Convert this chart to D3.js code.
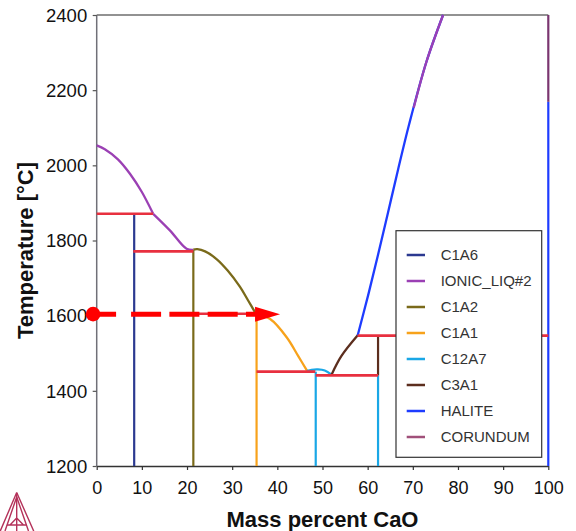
<!DOCTYPE html>
<html>
<head>
<meta charset="utf-8">
<script src="https://cdn.jsdelivr.net/npm/d3@7"></script>
<style>
  html, body { margin: 0; padding: 0; background: #fff; }
  svg { display: block; font-family: "Liberation Sans", Arial, sans-serif; }
</style>
</head>
<body>
<svg id="chart" width="576" height="531"></svg>
<script>
// CaO–Al2O3 phase diagram: x = mass percent CaO, y = temperature in °C

const xTicks = [0, 10, 20, 30, 40, 50, 60, 70, 80, 90, 100];
const yTicks = [1200, 1400, 1600, 1800, 2000, 2200, 2400];

// Phase names shown in the legend, with their line colours
const phaseNames  = ["C1A6", "IONIC_LIQ#2", "C1A2", "C1A1", "C12A7", "C3A1", "HALITE", "CORUNDUM"];
const phaseColors = ["#2b3990", "#9b40b4", "#7a6a1a", "#f7a21b", "#1aa7e6", "#5c2e1e", "#1e3cff", "#a0507a"];

// Liquidus branches [mass % CaO, T °C]
const liqCorundum = [[0, 2053], [1.8, 2043], [4.7, 2016], [7.4, 1977], [10.0, 1929], [12.5, 1871]];
const liqC1A6     = [[12.5, 1871], [16.2, 1827], [19.9, 1778], [21.4, 1775]];
const liqUpper    = [[70.2, 2153], [73.0, 2275], [76.7, 2400]];
const liqC1A2     = [[21.4, 1776], [22.3, 1777], [24.0, 1771], [26.6, 1750], [29.0, 1720], [31.7, 1677], [33.5, 1641], [35.3, 1604]];
const liqC1A1     = [[35.3, 1604], [38.4, 1591], [42.1, 1542], [44.6, 1493], [46.6, 1453]];
const liqC12A7    = [[46.6, 1453], [47.6, 1456], [49.0, 1457], [50.5, 1454], [52.0, 1443]];
const liqC3A1     = [[52.0, 1443], [54.2, 1493], [57.8, 1548]];
const liqHalite   = [[57.8, 1548], [60.1, 1654], [62.3, 1762], [64.5, 1874], [66.7, 1987], [69.2, 2110], [73.0, 2275], [76.7, 2400]];

// Stoichiometric compound lines: [phase index, x, T bottom, T top]
const compounds = [
  [0, 8.3, 1200, 1871],
  [2, 21.4, 1200, 1775],
  [3, 35.4, 1200, 1604],
  [4, 48.5, 1200, 1451],
  [4, 62.3, 1200, 1441],
  [5, 62.3, 1441, 1547],
  [6, 100, 1200, 2169],
  [7, 100, 2169, 2400]
];

// Invariant (three-phase) temperatures: [x from, x to, T]
const invariants = [
  [0, 12.5, 1871],
  [8.1, 21.4, 1771],
  [21.4, 35.4, 1605],
  [35.4, 48.4, 1451],
  [48.5, 62.3, 1441],
  [57.8, 100, 1547]
];

// Isothermal path marker: start point and arrow tip
const pathStart = [-0.8, 1604];
const pathEnd   = [40.6, 1604];

const svg = d3.select("#chart");
const margin = { left: 96.7, right: 576 - 548.3, top: 15, bottom: 531 - 466 };
const W = 576, H = 531;

const x = d3.scaleLinear().domain([0, 100]).range([margin.left, W - margin.right]);
const y = d3.scaleLinear().domain([1200, 2400]).range([H - margin.bottom, margin.top]);

const line = d3.line().x(d => x(d[0])).y(d => y(d[1])).curve(d3.curveCatmullRom.alpha(0.5));
const straight = d3.line().x(d => x(d[0])).y(d => y(d[1]));

// Frame: top and left in grey
svg.append("line")
  .attr("x1", x(0)).attr("x2", x(100)).attr("y1", y(2400)).attr("y2", y(2400))
  .attr("stroke", "#6e6e6e").attr("stroke-width", 1.5);
svg.append("line")
  .attr("x1", x(0)).attr("x2", x(0)).attr("y1", y(2400)).attr("y2", y(1200))
  .attr("stroke", "#707078").attr("stroke-width", 1.5);

// Axes
const xAxis = svg.append("g")
  .attr("transform", `translate(0,${y(1200)})`)
  .call(d3.axisBottom(x).tickValues(xTicks).tickFormat(d3.format("d")).tickSize(4).tickSizeOuter(0));
xAxis.select(".domain").attr("stroke", "#333").attr("stroke-width", 1.5);
xAxis.selectAll(".tick line").attr("stroke", "#333").attr("stroke-width", 1.2);
xAxis.selectAll(".tick text")
  .attr("y", 15.5).attr("dy", "0.71em")
  .attr("font-size", 18).attr("fill", "#111")
  .style("font-family", "'Liberation Sans', Arial, sans-serif");

const yAxis = svg.append("g")
  .attr("transform", `translate(${x(0)},0)`)
  .call(d3.axisLeft(y).tickValues(yTicks).tickFormat(d3.format("d")).tickSize(4).tickSizeOuter(0));
yAxis.select(".domain").remove();
yAxis.selectAll(".tick line").attr("stroke", "#555").attr("stroke-width", 1.2);
yAxis.selectAll(".tick text")
  .attr("x", -9.5).attr("dy", "0.34em")
  .attr("font-size", 18.5).attr("fill", "#111")
  .style("font-family", "'Liberation Sans', Arial, sans-serif");

// Axis titles
svg.append("text")
  .attr("x", (x(0) + x(100)) / 2).attr("y", 527)
  .attr("text-anchor", "middle").attr("font-size", 22).attr("font-weight", "bold")
  .attr("fill", "#111").text("Mass percent CaO");
svg.append("text")
  .attr("transform", `translate(33,${(y(2400) + y(1200)) / 2 + 10}) rotate(-90)`)
  .attr("text-anchor", "middle").attr("font-size", 22).attr("font-weight", "bold")
  .attr("fill", "#111").text("Temperature [°C]");

// Compound lines
const gPhases = svg.append("g").attr("fill", "none");
compounds.forEach(([pi, cx, t0, t1]) => {
  gPhases.append("path")
    .attr("d", straight([[cx, t0], [cx, t1]]))
    .attr("stroke", pi === 7 ? "#7a3570" : phaseColors[pi])
    .attr("stroke-width", 2.2);
});

// Liquidus curves
const curves = [
  [liqCorundum, 1], [liqC1A6, 1], [liqC1A2, 2], [liqC1A1, 3], [liqC12A7, 4],
  [liqC3A1, 5], [liqHalite, 6], [liqUpper, 1]
];
curves.forEach(([pts, pi]) => {
  gPhases.append("path")
    .attr("d", line(pts))
    .attr("stroke", phaseColors[pi])
    .attr("stroke-width", 2.3)
    .attr("stroke-linejoin", "round");
});

// Invariant lines
invariants.forEach(([x0, x1, t]) => {
  gPhases.append("path")
    .attr("d", straight([[x0, t], [x1, t]]))
    .attr("stroke", "#e8303f").attr("stroke-width", 2.6);
});

// Isothermal path: dot, dashed line and arrow head
const headLen = 25, headHalf = 7.5;
svg.append("line")
  .attr("x1", x(pathStart[0])).attr("y1", y(pathStart[1]))
  .attr("x2", x(pathEnd[0]) - headLen + 2).attr("y2", y(pathEnd[1]))
  .attr("stroke", "#ff0000").attr("stroke-width", 5)
  .attr("stroke-dasharray", "23,15,30,8.3,30,8.3,30,8.3,30,8.3,40");
svg.append("circle")
  .attr("cx", x(pathStart[0])).attr("cy", y(pathStart[1])).attr("r", 7.3)
  .attr("fill", "#ff0000");
svg.append("path")
  .attr("d", `M${x(pathEnd[0])},${y(pathEnd[1])} l${-headLen},${-headHalf} l0,${2 * headHalf} Z`)
  .attr("fill", "#ff0000");

// Legend
const lg = svg.append("g").attr("transform", "translate(396,230.7)");
lg.append("rect").attr("width", 145.7).attr("height", 226.6)
  .attr("fill", "#fff").attr("stroke", "#333").attr("stroke-width", 1.2);
phaseNames.forEach((name, i) => {
  const ry = 24.3 + i * 26;
  lg.append("line").attr("x1", 10.7).attr("x2", 29).attr("y1", ry).attr("y2", ry)
    .attr("stroke", phaseColors[i]).attr("stroke-width", 2.5);
  lg.append("text").attr("x", 44.7).attr("y", ry).attr("dy", "0.36em")
    .attr("font-size", 15).attr("fill", "#333").text(name);
});

// Logo mark in the lower-left corner
const logo = svg.append("g").attr("fill", "none").attr("stroke", "#b4325a").attr("stroke-width", 1.4);
logo.append("path").attr("d", "M16.7,492.5 L-1,534 M16.7,492.5 L35,534");
logo.append("path").attr("d", "M16.7,497 L5,531 M16.7,497 L28.5,531");
logo.append("path").attr("d", "M16.7,493 L16.7,531 M7,525 L26.5,525 M16.7,518 L10,525 M16.7,518 L23.5,525");
</script>
</body>
</html>
